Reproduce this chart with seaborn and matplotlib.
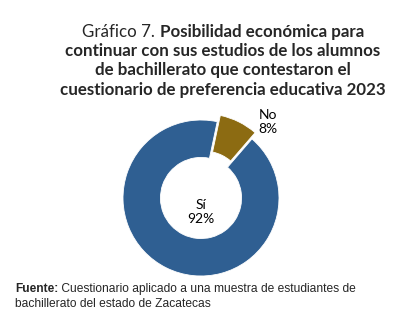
import numpy as np
import matplotlib
matplotlib.use("Agg")
import matplotlib.pyplot as plt
import seaborn as sns

sns.set_theme(style="white")
plt.rcParams["font.family"] = ["Lato", "DejaVu Sans"]

categories = ["No", "Sí"]
values = [8, 92]
colors = ["#8C6B12", "#2F5F92"]
explode = [0.09, 0.0]

title_lines = [
    ("Gráfico 7. ", "Posibilidad económica para"),
    ("", "continuar con sus estudios de los alumnos"),
    ("", "de bachillerato que contestaron el"),
    ("", "cuestionario de preferencia educativa 2023"),
]
source_bold = "Fuente:"
source_rest = " Cuestionario aplicado a una muestra de estudiantes de"
source_line2 = "bachillerato del estado de Zacatecas"

W, H = 408, 327
fig = plt.figure(figsize=(W / 100, H / 100), dpi=100)
fig.patch.set_facecolor("white")

# donut
cx, cy, r = 201, 198, 78
ax = fig.add_axes([(cx - r * 1.15) / W, 1 - (cy + r * 1.15) / H, 2 * r * 1.15 / W, 2 * r * 1.15 / H])
wedges, _ = ax.pie(values, colors=colors, startangle=78, counterclock=False,
                   explode=explode, radius=1.0,
                   wedgeprops=dict(width=0.48, edgecolor="white", linewidth=0.6))
ax.set_xlim(-1.15, 1.15)
ax.set_ylim(-1.15, 1.15)
ax.set_aspect("equal")
ax.axis("off")

ax.text(0.0, -0.18, f"{categories[1]}\n{values[1]}%", ha="center", va="center",
        fontsize=10, color="black", linespacing=1.2)
ax.text(0.86, 0.98, f"{categories[0]}\n{values[0]}%", ha="center", va="center",
        fontsize=10, color="black", linespacing=1.2)

# title with mixed weight on first line
fig.canvas.draw()
renderer = fig.canvas.get_renderer()
title_cx = 223
ys = [32, 51, 70, 90]
fs = 12.2
for (normal, bold), y in zip(title_lines, ys):
    yf = 1 - y / H
    if normal:
        t1 = fig.text(0, yf, normal, fontsize=fs, va="center", ha="left")
        t2 = fig.text(0, yf, bold, fontsize=fs, fontweight="bold", va="center", ha="left")
        w1 = t1.get_window_extent(renderer).width
        w2 = t2.get_window_extent(renderer).width
        x0 = title_cx - (w1 + w2) / 2
        t1.set_x(x0 / W)
        t2.set_x((x0 + w1) / W)
    else:
        fig.text(title_cx / W, yf, bold, fontsize=fs, fontweight="bold", va="center", ha="center")

# source note
sf = 8.65
s1 = fig.text(15 / W, 1 - 289 / H, source_bold, fontsize=sf, fontweight="bold",
              family="Liberation Sans", va="center", ha="left")
wb = s1.get_window_extent(renderer).width
fig.text((15 + wb) / W, 1 - 289 / H, source_rest, fontsize=sf,
         family="Liberation Sans", va="center", ha="left")
fig.text(15 / W, 1 - 304 / H, source_line2, fontsize=sf,
         family="Liberation Sans", va="center", ha="left")

fig.savefig("out.png", dpi=100)
